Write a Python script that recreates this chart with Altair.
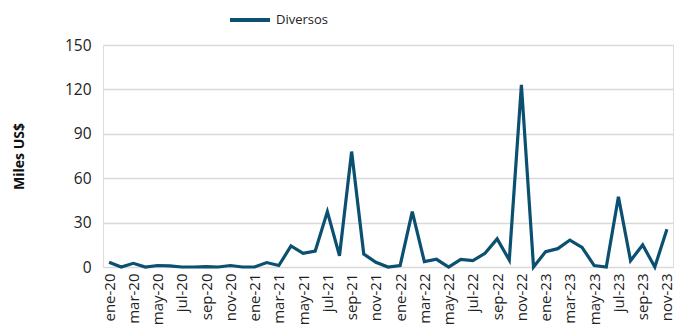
import altair as alt
import pandas as pd

months_es = ["ene", "feb", "mar", "abr", "may", "jun", "jul", "ago", "sep", "oct", "nov", "dic"]
labels = []
for yr in ["20", "21", "22", "23"]:
    for m in months_es:
        labels.append(f"{m}-{yr}")
labels = labels[:47]

values = [3.2, 0, 2.5, 0, 1, 0.7, 0, 0, 0.3, 0, 1, 0,
          0, 3, 1, 14.2, 9.2, 10.8, 37.4, 7.6, 78, 8.8, 3.2, 0,
          1, 37.4, 3.6, 5.2, 0, 5.2, 4.3, 9.2, 19, 4.7, 123, 0,
          10.4, 12.4, 18.2, 13.3, 1, 0, 47.5, 4.3, 14.9, 0, 25.5]

series = "Diversos"

df = pd.DataFrame({"mes": labels, "valor": values, "serie": series})

font = "Open Sans"

chart = alt.Chart(df).mark_line(strokeWidth=3.2, strokeJoin="miter").encode(
    x=alt.X("mes:N", sort=labels,
            scale=alt.Scale(type="point", padding=0.5),
            axis=alt.Axis(values=labels[::2], labelAngle=-90, title=None,
                          domain=False, ticks=False, grid=False,
                          labelFont=font, labelFontSize=15, labelColor="#222",
                          labelPadding=6, labelBaseline="middle", labelAlign="right")),
    y=alt.Y("valor:Q", scale=alt.Scale(domain=[0, 150], nice=False),
            axis=alt.Axis(values=[0, 30, 60, 90, 120, 150], title="Miles US$",
                          titleFont=font, titleFontSize=14, titleFontWeight="bold",
                          titleColor="#111", titlePadding=38,
                          labelFont=font, labelFontSize=15.5, labelColor="#222",
                          labelPadding=12, domain=False, ticks=False,
                          gridColor="#d9d9d9", gridWidth=1.5)),
    color=alt.Color("serie:N", scale=alt.Scale(range=["#0b4f71"]),
                    legend=alt.Legend(title=None, orient="none", legendX=125, legendY=-47,
                                      symbolType="stroke",
                                      symbolStrokeWidth=4, symbolSize=1600,
                                      labelFont=font, labelFontSize=13, labelColor="#222")),
).properties(
    width=570, height=222,
    autosize=alt.AutoSizeParams(type="none"),
    padding={"left": 95, "top": 37, "right": 6, "bottom": 61},
).configure_view(stroke=None).configure(background="white")

chart.save("out.html", embed_options={"renderer": "svg", "actions": False})
